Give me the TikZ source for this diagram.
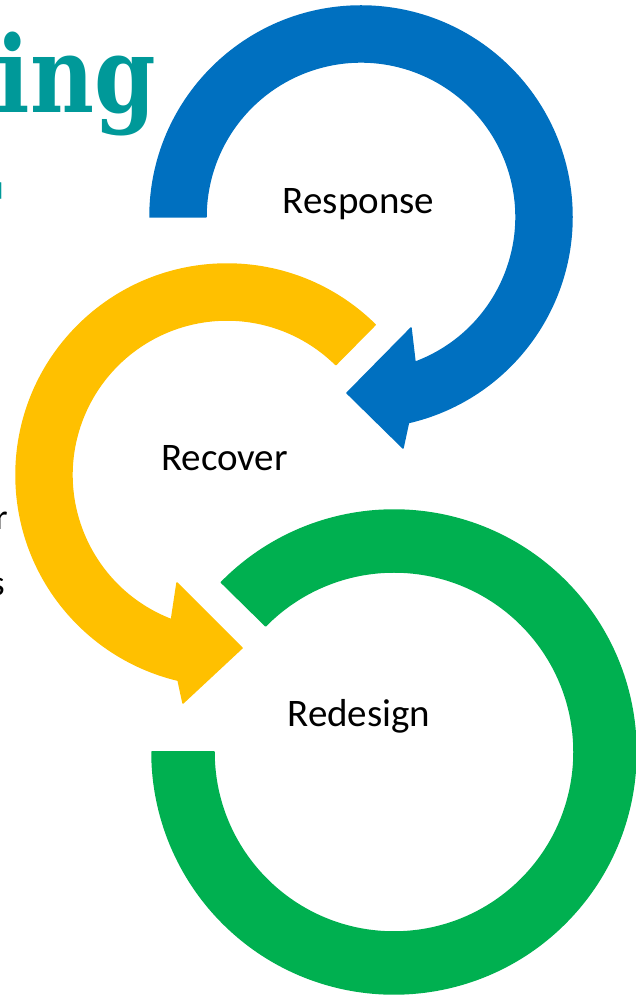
\documentclass[tikz,border=0pt]{standalone}
\usepackage{fontspec}
\newfontfamily\labelfont{Carlito}
\newfontfamily\headfont{DejaVu Serif}
\definecolor{cycBlue}{RGB}{0,112,192}
\definecolor{cycYellow}{RGB}{255,192,0}
\definecolor{cycGreen}{RGB}{0,176,80}
\definecolor{titleTeal}{RGB}{0,153,153}
\tikzset{
  band/.style={fill=#1, draw=#1, line width=1.5pt, line join=round},
  stage/.style={font=\labelfont\fontsize{39}{47}\selectfont, text=black, inner sep=0pt, anchor=base},
  bodytext/.style={font=\labelfont\fontsize{36}{44}\selectfont, text=black, inner sep=0pt, anchor=base east},
  headline/.style={font=\headfont\bfseries\fontsize{100}{110}\selectfont, text=titleTeal, inner sep=0pt, anchor=base east}
}
\begin{document}
\begin{tikzpicture}[x=1pt,y=1pt]
  \useasboundingbox (0,0) rectangle (636,996);
  \clip (0,0) rectangle (636,996);

  % heading and body text running in from the left
  \node[headline] (head1) at (156,883) {\scalebox{0.88}[1.06]{ing}};
  \node[headline] (head2) at (1,757) {\scalebox{0.88}[1.06]{r}};
  \node[bodytext] (body1) at (8,466) {r};
  \node[bodytext] (body2) at (5,400) {s};

  % ring centres
  \coordinate (cB) at (361,779);
  \coordinate (cY) at (227,521);
  \coordinate (cG) at (394,244);

  % blue circular arrow
  \fill[band=cycBlue] ([shift={(180:211pt)}]cB)
    arc[start angle=180, end angle=-77, radius=211pt]
    -- (403,548) -- (347,603) -- (411,668)
    -- ([shift={(-69.6:155pt)}]cB)
    arc[start angle=-69.6, end angle=180, radius=155pt] -- cycle;

  % yellow circular arrow
  \fill[band=cycYellow] ([shift={(45.4:211pt)}]cY)
    arc[start angle=45.4, end angle=256.6, radius=211pt]
    -- (183,293) -- (242,348) -- (177,413)
    -- ([shift={(249:155pt)}]cY)
    arc[start angle=249, end angle=45.4, radius=155pt] -- cycle;

  % green open ring
  \fill[band=cycGreen] ([shift={(135.5:242pt)}]cG)
    arc[start angle=135.5, end angle=-180, radius=242pt]
    -- ([shift={(180:180pt)}]cG)
    arc[start angle=-180, end angle=135.5, radius=180pt] -- cycle;

  % stage labels
  \node[stage] (response) at (358.5,782) {Response};
  \node[stage] (recover) at (224.5,525) {Recover};
  \node[stage] (redesign) at (359,269) {Redesign};
\end{tikzpicture}
\end{document}
